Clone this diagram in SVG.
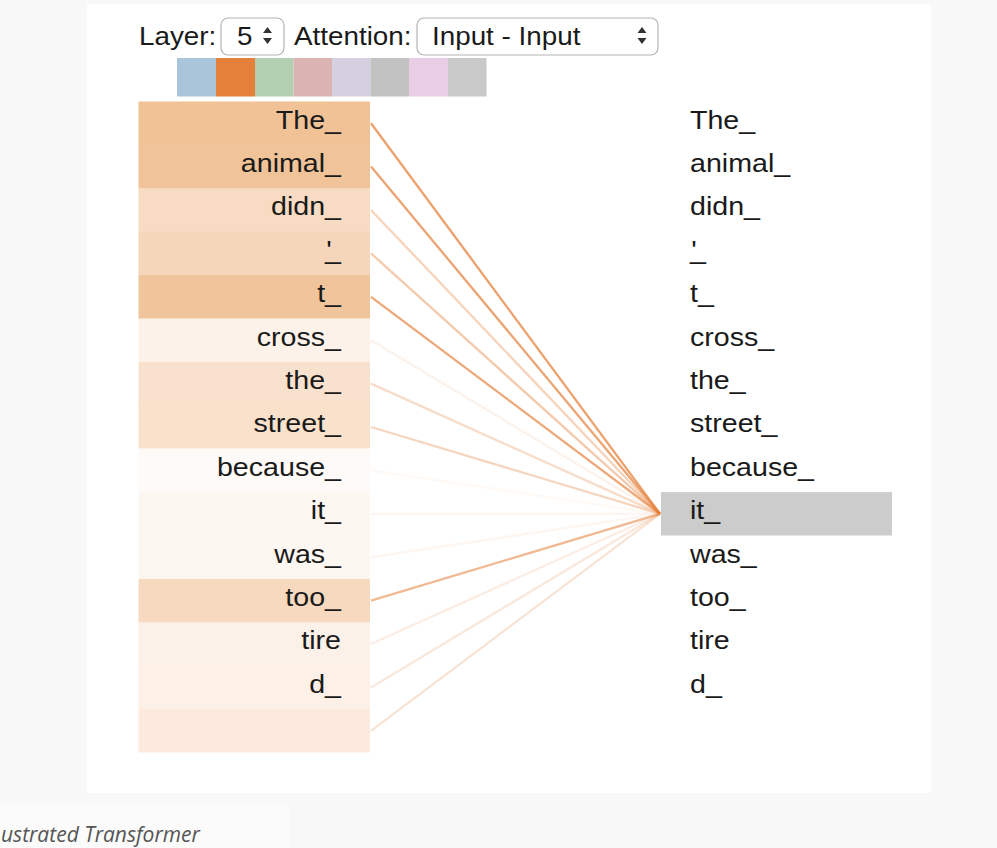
<svg xmlns="http://www.w3.org/2000/svg" width="997" height="848" viewBox="0 0 997 848">
<style>
  .t { font-family: "Liberation Sans", Arial, sans-serif; font-size: 26px; fill: #1a1a1a; }
  .h { font-family: "Liberation Sans", Arial, sans-serif; font-size: 26px; fill: #1a1a1a; }
  .l { text-anchor: end; }
  .sel { fill: #fff; stroke: #b3b3b3; stroke-width: 1.2; }
  .arr { fill: #333; }
  .c { stroke: #e5803b; stroke-width: 2.3; fill: none; }
  .cap { font-family: "Open Sans", "Liberation Sans", sans-serif; font-style: italic; font-size: 21px; fill: #555; }
</style>
<rect x="0" y="0" width="997" height="848" fill="#f8f8f8"/>
<rect x="87" y="4" width="844" height="789" fill="#ffffff"/>
<rect x="0" y="805" width="290" height="43" fill="#fbfbfb"/>
<text class="cap" x="1" y="842">ustrated Transformer</text>

<g id="controls">
  <text class="h" transform="translate(139,45) scale(1.07,1)">Layer:</text>
  <rect class="sel" x="221" y="18" width="63" height="37" rx="7"/>
  <text class="h" transform="translate(237,45) scale(1.07,1)">5</text>
  <path class="arr" d="M263 33 L267.5 27 L272 33 Z M263 38 L267.5 44 L272 38 Z"/>
  <text class="h" transform="translate(294,45) scale(1.07,1)">Attention:</text>
  <rect class="sel" x="417" y="18" width="241" height="37" rx="7"/>
  <text class="h" transform="translate(432,45) scale(1.07,1)">Input - Input</text>
  <path class="arr" d="M637.5 33 L642 27 L646.5 33 Z M637.5 38 L642 44 L646.5 38 Z"/>
</g>

<g id="heads">
  <rect x="177" y="58" width="39" height="38.5" fill="#aac5da"/>
  <rect x="216" y="58" width="39" height="38.5" fill="#e5803b"/>
  <rect x="255" y="58" width="38.5" height="38.5" fill="#b2d0b1"/>
  <rect x="293.5" y="58" width="38.5" height="38.5" fill="#dcb3b3"/>
  <rect x="332" y="58" width="38.5" height="38.5" fill="#d5d0df"/>
  <rect x="370.5" y="58" width="38.5" height="38.5" fill="#c2c2c2"/>
  <rect x="409" y="58" width="39" height="38.5" fill="#e9cde4"/>
  <rect x="448" y="58" width="38.5" height="38.5" fill="#c9c9c9"/>
</g>

<g id="connectors">
  <line class="c" x1="371" y1="123.2" x2="660" y2="513.8" stroke-opacity="0.75"/>
  <line class="c" x1="371" y1="166.6" x2="660" y2="513.8" stroke-opacity="0.72"/>
  <line class="c" x1="371" y1="210" x2="660" y2="513.8" stroke-opacity="0.35"/>
  <line class="c" x1="371" y1="253.4" x2="660" y2="513.8" stroke-opacity="0.42"/>
  <line class="c" x1="371" y1="296.8" x2="660" y2="513.8" stroke-opacity="0.7"/>
  <line class="c" x1="371" y1="340.2" x2="660" y2="513.8" stroke-opacity="0.1"/>
  <line class="c" x1="371" y1="383.6" x2="660" y2="513.8" stroke-opacity="0.28"/>
  <line class="c" x1="371" y1="427" x2="660" y2="513.8" stroke-opacity="0.33"/>
  <line class="c" x1="371" y1="470.4" x2="660" y2="513.8" stroke-opacity="0.05"/>
  <line class="c" x1="371" y1="513.8" x2="660" y2="513.8" stroke-opacity="0.08"/>
  <line class="c" x1="371" y1="557.2" x2="660" y2="513.8" stroke-opacity="0.08"/>
  <line class="c" x1="371" y1="600.6" x2="660" y2="513.8" stroke-opacity="0.55"/>
  <line class="c" x1="371" y1="644" x2="660" y2="513.8" stroke-opacity="0.14"/>
  <line class="c" x1="371" y1="687.4" x2="660" y2="513.8" stroke-opacity="0.18"/>
  <line class="c" x1="371" y1="730.8" x2="660" y2="513.8" stroke-opacity="0.22"/>
</g>

<g id="left-0"><rect x="138.5" y="101.5" width="231.5" height="43.9" fill="#f0c296"/><text class="t l" transform="translate(341,128.5) scale(1.1,1)">The_</text></g>
<g id="left-1"><rect x="138.5" y="144.9" width="231.5" height="43.9" fill="#f0c398"/><text class="t l" transform="translate(341,171.9) scale(1.1,1)">animal_</text></g>
<g id="left-2"><rect x="138.5" y="188.3" width="231.5" height="43.9" fill="#f7dcc3"/><text class="t l" transform="translate(341,215.3) scale(1.1,1)">didn_</text></g>
<g id="left-3"><rect x="138.5" y="231.7" width="231.5" height="43.9" fill="#f6d6ba"/><text class="t l" transform="translate(341,258.7) scale(1.1,1)">'<tspan dx="-6">_</tspan></text></g>
<g id="left-4"><rect x="138.5" y="275.1" width="231.5" height="43.9" fill="#f0c59b"/><text class="t l" transform="translate(341,302.1) scale(1.1,1)">t_</text></g>
<g id="left-5"><rect x="138.5" y="318.5" width="231.5" height="43.9" fill="#fdf2ea"/><text class="t l" transform="translate(341,345.5) scale(1.1,1)">cross_</text></g>
<g id="left-6"><rect x="138.5" y="361.9" width="231.5" height="43.9" fill="#f9e2cd"/><text class="t l" transform="translate(341,388.9) scale(1.1,1)">the_</text></g>
<g id="left-7"><rect x="138.5" y="405.3" width="231.5" height="43.4" fill="#f9e1cb"/><text class="t l" transform="translate(341,432.3) scale(1.1,1)">street_</text></g>
<g id="left-8"><rect x="138.5" y="448.7" width="231.5" height="43.9" fill="#fefaf7"/><text class="t l" transform="translate(341,475.7) scale(1.1,1)">because_</text></g>
<g id="left-9"><rect x="138.5" y="492.1" width="231.5" height="43.9" fill="#fdf7f2"/><text class="t l" transform="translate(341,519.1) scale(1.1,1)">it_</text></g>
<g id="left-10"><rect x="138.5" y="535.5" width="231.5" height="43.9" fill="#fdf7f2"/><text class="t l" transform="translate(341,562.5) scale(1.1,1)">was_</text></g>
<g id="left-11"><rect x="138.5" y="578.9" width="231.5" height="43.9" fill="#f6d9bf"/><text class="t l" transform="translate(341,605.9) scale(1.1,1)">too_</text></g>
<g id="left-12"><rect x="138.5" y="622.3" width="231.5" height="43.9" fill="#fcf1e9"/><text class="t l" transform="translate(341,649.3) scale(1.1,1)">tire</text></g>
<g id="left-13"><rect x="138.5" y="665.7" width="231.5" height="43.9" fill="#fcf0e7"/><text class="t l" transform="translate(341,692.7) scale(1.1,1)">d_</text></g>
<g id="left-14"><rect x="138.5" y="709.1" width="231.5" height="43.4" fill="#fbeadd"/></g>

<g id="right-0"><text class="t" transform="translate(690,128.5) scale(1.1,1)">The_</text></g>
<g id="right-1"><text class="t" transform="translate(690,171.9) scale(1.1,1)">animal_</text></g>
<g id="right-2"><text class="t" transform="translate(690,215.3) scale(1.1,1)">didn_</text></g>
<g id="right-3"><text class="t" transform="translate(690,258.7) scale(1.1,1)">'<tspan dx="-6">_</tspan></text></g>
<g id="right-4"><text class="t" transform="translate(690,302.1) scale(1.1,1)">t_</text></g>
<g id="right-5"><text class="t" transform="translate(690,345.5) scale(1.1,1)">cross_</text></g>
<g id="right-6"><text class="t" transform="translate(690,388.9) scale(1.1,1)">the_</text></g>
<g id="right-7"><text class="t" transform="translate(690,432.3) scale(1.1,1)">street_</text></g>
<g id="right-8"><text class="t" transform="translate(690,475.7) scale(1.1,1)">because_</text></g>
<g id="right-9"><rect x="661" y="492.1" width="231" height="43.4" fill="#cccccc"/><text class="t" transform="translate(690,519.1) scale(1.1,1)">it_</text></g>
<g id="right-10"><text class="t" transform="translate(690,562.5) scale(1.1,1)">was_</text></g>
<g id="right-11"><text class="t" transform="translate(690,605.9) scale(1.1,1)">too_</text></g>
<g id="right-12"><text class="t" transform="translate(690,649.3) scale(1.1,1)">tire</text></g>
<g id="right-13"><text class="t" transform="translate(690,692.7) scale(1.1,1)">d_</text></g>
</svg>
